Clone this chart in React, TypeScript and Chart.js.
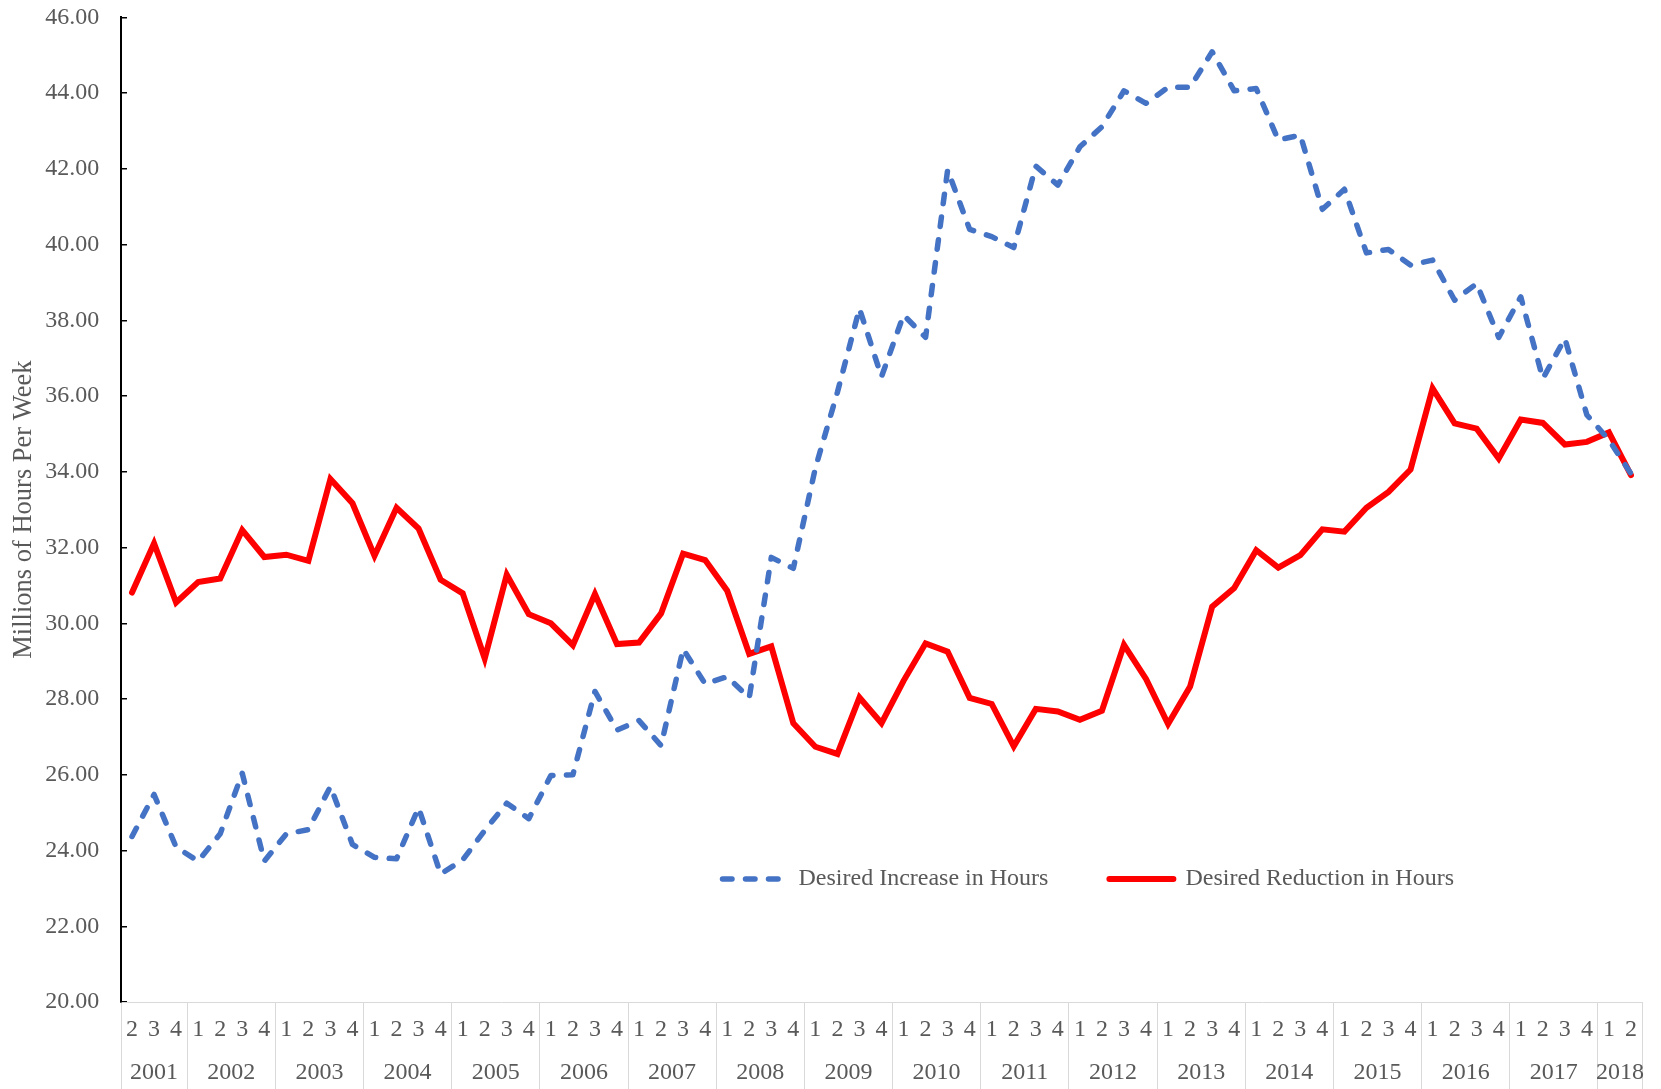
import React, { useEffect, useRef } from 'react';
import { Chart, registerables } from 'chart.js';

Chart.register(...registerables);

// ---------- data ----------
const QUARTERS: string[] = [
  '2', '3', '4',
  '1', '2', '3', '4', // 2002
  '1', '2', '3', '4', // 2003
  '1', '2', '3', '4', // 2004
  '1', '2', '3', '4', // 2005
  '1', '2', '3', '4', // 2006
  '1', '2', '3', '4', // 2007
  '1', '2', '3', '4', // 2008
  '1', '2', '3', '4', // 2009
  '1', '2', '3', '4', // 2010
  '1', '2', '3', '4', // 2011
  '1', '2', '3', '4', // 2012
  '1', '2', '3', '4', // 2013
  '1', '2', '3', '4', // 2014
  '1', '2', '3', '4', // 2015
  '1', '2', '3', '4', // 2016
  '1', '2', '3', '4', // 2017
  '1', '2',
];

const YEARS: string[] = [
  '2001', '2002', '2003', '2004', '2005', '2006', '2007', '2008', '2009',
  '2010', '2011', '2012', '2013', '2014', '2015', '2016', '2017', '2018',
];

const DESIRED_INCREASE: number[] = [
  24.37, 25.48, 24.09,
  23.72, 24.44, 26.04, 23.72,
  24.44, 24.55, 25.69, 24.16,
  23.82, 23.78, 25.13, 23.38,
  23.75, 24.53, 25.25, 24.84,
  25.98, 26.0, 28.2, 27.18,
  27.43, 26.77, 29.32, 28.4,
  28.59, 28.03, 31.74, 31.45,
  34.1, 36.1, 38.31, 36.51,
  38.14, 37.55, 41.97, 40.4,
  40.21, 39.92, 42.07, 41.57,
  42.58, 43.11, 44.06, 43.73,
  44.15, 44.15, 45.09, 44.06,
  44.12, 42.76, 42.89, 40.93,
  41.46, 39.78, 39.87, 39.46,
  39.59, 38.53, 38.97, 37.55,
  38.62, 36.46, 37.52, 35.5,
  34.84, 33.95,
];

const DESIRED_REDUCTION: number[] = [
  30.81, 32.11, 30.55,
  31.09, 31.18, 32.46, 31.75,
  31.81, 31.65, 33.81, 33.17,
  31.78, 33.05, 32.5, 31.15,
  30.79, 29.07, 31.28, 30.24,
  30.0, 29.42, 30.77, 29.45,
  29.49, 30.26, 31.84, 31.67,
  30.86, 29.19, 29.39, 27.36,
  26.74, 26.55, 28.04, 27.36,
  28.48, 29.47, 29.25, 28.03,
  27.87, 26.75, 27.74, 27.67,
  27.45, 27.69, 29.43, 28.53,
  27.34, 28.33, 30.44, 30.93,
  31.93, 31.47, 31.8, 32.48,
  32.42, 33.05, 33.47, 34.06,
  36.2, 35.28, 35.14, 34.35,
  35.38, 35.29, 34.72, 34.79,
  35.04, 33.91,
];

const SERIES_LABELS: string[] = ['Desired Increase in Hours', 'Desired Reduction in Hours'];
const Y_TITLE = 'Millions of Hours Per Week';
const Y_MIN = 20;
const Y_MAX = 46;
const Y_STEP = 2;

// ---------- styling / layout ----------
const FONT = "'Liberation Serif', 'Times New Roman', serif";
const TEXT = '#595959';
const SEP = '#d9d9d9';
const BLUE = '#4472C4';
const RED = '#FF0000';
const W = 1661;
const H = 1089;
const Y_AXIS_WIDTH = 121;
const QUARTER_ROW = 50;
const YEAR_ROW = 37;
const LEGEND_LEFT = 661.5;
const LEGEND_TOP = 806;

// year group ticks (boundaries + centres) derived from the quarter labels
type YearTick = { value: number; label: string; boundary: boolean };
function buildYearTicks(): YearTick[] {
  const counts: number[] = [];
  QUARTERS.forEach((q, i) => {
    if (i === 0 || q === '1') counts.push(1);
    else counts[counts.length - 1] += 1;
  });
  const out: YearTick[] = [];
  let start = -0.5;
  counts.forEach((n, k) => {
    out.push({ value: start, label: '', boundary: true });
    out.push({ value: start + n / 2, label: YEARS[k] ?? '', boundary: false });
    start += n;
  });
  out.push({ value: start, label: '', boundary: true });
  return out;
}

// place the (zero-height) legend inside the plot area, as in the reference
const legendPlacer = {
  id: 'legendPlacer',
  afterLayout(chart: any) {
    const lg = chart.legend;
    if (!lg) return;
    lg.left = LEGEND_LEFT;
    lg.right = chart.width;
    lg.top = LEGEND_TOP;
    lg.bottom = LEGEND_TOP + 120;
  },
};

export default function App() {
  const ref = useRef<HTMLCanvasElement>(null);

  useEffect(() => {
    const canvas = ref.current;
    if (!canvas) return;
    const yearTicks = buildYearTicks();
    const defaultLabels = (Chart.defaults as any).plugins.legend.labels.generateLabels;

    const chart = new Chart(canvas, {
      type: 'line',
      data: {
        labels: QUARTERS,
        datasets: [
          {
            label: SERIES_LABELS[0],
            data: DESIRED_INCREASE,
            borderColor: BLUE,
            backgroundColor: BLUE,
            borderWidth: 5.5,
            borderDash: [9.5, 13.5],
            borderCapStyle: 'round',
            borderJoinStyle: 'round',
            pointRadius: 0,
            pointHoverRadius: 0,
            tension: 0,
            fill: false,
            xAxisID: 'x',
            yAxisID: 'y',
          },
          {
            label: SERIES_LABELS[1],
            data: DESIRED_REDUCTION,
            borderColor: RED,
            backgroundColor: RED,
            borderWidth: 6,
            borderCapStyle: 'round',
            borderJoinStyle: 'miter',
            pointRadius: 0,
            pointHoverRadius: 0,
            tension: 0,
            fill: false,
            xAxisID: 'x',
            yAxisID: 'y',
          },
        ],
      },
      options: {
        responsive: false,
        animation: false,
        devicePixelRatio: 1,
        events: [],
        layout: { padding: { left: 0, right: 19, top: 17.3, bottom: 0 } },
        plugins: {
          tooltip: { enabled: false },
          legend: {
            display: true,
            position: 'top',
            align: 'start',
            maxHeight: 0.01,
            labels: {
              usePointStyle: true,
              pointStyle: 'line',
              pointStyleWidth: 64,
              boxHeight: 24,
              padding: 61,
              color: TEXT,
              font: { family: FONT, size: 24 },
              generateLabels: (c: any) =>
                defaultLabels(c).map((item: any) => {
                  const ds: any = c.data.datasets[item.datasetIndex];
                  return {
                    ...item,
                    pointStyle: 'line',
                    strokeStyle: ds.borderColor,
                    fillStyle: ds.borderColor,
                    lineWidth: ds.borderWidth,
                    lineDash: ds.borderDash || [],
                    lineDashOffset: 0,
                    lineCap: 'round',
                  };
                }),
            },
          } as any,
        },
        scales: {
          x: {
            type: 'category',
            axis: 'x',
            position: 'bottom',
            weight: 1,
            offset: true,
            grid: {
              display: true,
              offset: true,
              drawOnChartArea: false,
              drawTicks: true,
              tickLength: QUARTER_ROW,
              lineWidth: 1,
              color: (ctx: any) =>
                ctx.index === undefined || ctx.index === 0 || QUARTERS[ctx.index] === '1'
                  ? SEP
                  : 'rgba(0,0,0,0)',
            },
            border: { display: true, color: SEP, width: 1 },
            ticks: {
              autoSkip: false,
              maxRotation: 0,
              minRotation: 0,
              padding: -36.4,
              color: TEXT,
              font: { family: FONT, size: 24 },
            },
            afterFit: (scale: any) => {
              scale.height = QUARTER_ROW;
            },
          },
          x2: {
            type: 'linear',
            axis: 'x',
            position: 'bottom',
            weight: 2,
            display: true,
            min: -0.5,
            max: QUARTERS.length - 0.5,
            afterBuildTicks: (scale: any) => {
              scale.ticks = yearTicks.map((t) => ({ value: t.value }));
            },
            grid: {
              display: true,
              drawOnChartArea: false,
              drawTicks: true,
              tickLength: YEAR_ROW,
              lineWidth: 1,
              color: (ctx: any) =>
                yearTicks[ctx.index] && yearTicks[ctx.index].boundary ? SEP : 'rgba(0,0,0,0)',
            },
            border: { display: false },
            ticks: {
              autoSkip: false,
              maxRotation: 0,
              minRotation: 0,
              padding: -30.4,
              color: TEXT,
              font: { family: FONT, size: 24 },
              callback: (_v: any, i: number) => (yearTicks[i] ? yearTicks[i].label : ''),
            },
            afterFit: (scale: any) => {
              scale.height = YEAR_ROW;
            },
          },
          y: {
            type: 'linear',
            position: 'left',
            min: Y_MIN,
            max: Y_MAX,
            grid: {
              display: true,
              drawOnChartArea: false,
              drawTicks: true,
              tickLength: -6,
              color: '#000000',
              lineWidth: 1.5,
            },
            border: { display: true, color: '#000000', width: 2 },
            ticks: {
              stepSize: Y_STEP,
              padding: 27.7,
              color: TEXT,
              font: { family: FONT, size: 24 },
              callback: (v: any) => Number(v).toFixed(2),
            },
            title: {
              display: true,
              text: Y_TITLE,
              color: TEXT,
              font: { family: FONT, size: 26.5 },
              padding: { top: 8, bottom: 0 },
            },
            afterFit: (scale: any) => {
              scale.width = Y_AXIS_WIDTH;
              scale.paddingTop = 0;
              scale.paddingBottom = 0;
            },
          },
        },
      } as any,
      plugins: [legendPlacer],
    });

    return () => chart.destroy();
  }, []);

  return (
    <div style={{ position: 'fixed', left: 0, top: 0, width: W, height: H, background: '#ffffff' }}>
      <canvas ref={ref} width={W} height={H} style={{ display: 'block', width: W, height: H }} />
    </div>
  );
}
